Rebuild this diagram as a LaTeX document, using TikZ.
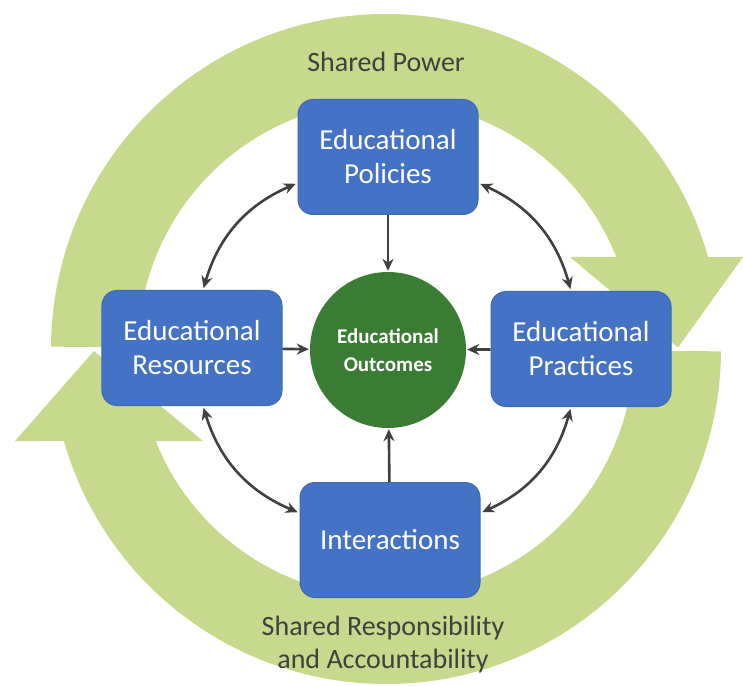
\documentclass[tikz,border=0pt]{standalone}
\usepackage{fontspec}
\setmainfont{Carlito}
\usetikzlibrary{arrows.meta}

\definecolor{boxblue}{HTML}{4472C4}
\definecolor{boxline}{HTML}{3E69B8}
\definecolor{ringgreen}{HTML}{C6D98C}
\definecolor{coregreen}{HTML}{3A7C33}
\definecolor{linkgray}{HTML}{404040}

\tikzset{
  block/.style={rectangle, rounded corners=15pt, fill=boxblue, draw=boxline, line width=1pt,
    minimum width=180pt, minimum height=115pt, inner sep=0pt, text=white, align=center,
    font=\fontsize{29}{34}\selectfont},
  core/.style={circle, fill=coregreen, minimum size=156pt, inner sep=0pt, text=white,
    align=center, font=\bfseries\fontsize{21}{28}\selectfont},
  caption/.style={text=linkgray, align=center, font=\fontsize{28}{33}\selectfont},
  link/.style={draw=linkgray, line width=2.6pt, {Stealth[length=12pt,width=11pt]}-{Stealth[length=12pt,width=11pt]},
    shorten <=2pt, shorten >=2pt},
  feed/.style={draw=linkgray, line width=2.6pt, -{Stealth[length=12pt,width=11pt]}, shorten >=1pt},
}

\begin{document}
\begin{tikzpicture}[x=1pt,y=1pt]
\useasboundingbox (-386,-336) rectangle (357,349);

% the two curved arrows of the ring
\fill[ringgreen] (179.6:335) arc[start angle=179.6, end angle=15.94, radius=335]
  -- (357,92) -- (292,1.5) -- (184,92)
  -- (21.78:248) arc[start angle=21.78, end angle=179.6, radius=248] -- cycle;
\fill[ringgreen] (-0.4:335) arc[start angle=-0.4, end angle=-164.06, radius=335]
  -- (-371,-92) -- (-292,-2) -- (-183,-92)
  -- (-158.22:248) arc[start angle=-158.22, end angle=-0.4, radius=248] -- cycle;

\node[caption, anchor=base] (power) at (0,277) {Shared Power};
\node[caption, anchor=base] (resp) at (-3,-319) {Shared Responsibility\\and Accountability};

\node[block] (pol) at (2,192) {Educational\\Policies};
\node[block] (res) at (-194,1) {Educational\\Resources};
\node[block] (prac) at (195,0) {Educational\\Practices};
\node[block] (inter) at (4,-191) {Interactions};
\node[core] (outc) at (2,-1) {Educational\\Outcomes};

\draw[feed] (pol) -- (outc);
\draw[feed] (res) -- (outc);
\draw[feed] (prac) -- (outc);
\draw[feed] (inter) -- (outc);

\draw[link] ([yshift=-26pt]pol.east) to[bend left=25] ([xshift=-10pt]prac.north);
\draw[link] ([xshift=-10pt]prac.south) to[bend left=25] ([yshift=27pt]inter.east);
\draw[link] ([yshift=27pt]inter.west) to[bend left=25] ([xshift=11pt]res.south);
\draw[link] ([xshift=11pt]res.north) to[bend left=25] ([yshift=-26pt]pol.west);
\end{tikzpicture}
\end{document}
